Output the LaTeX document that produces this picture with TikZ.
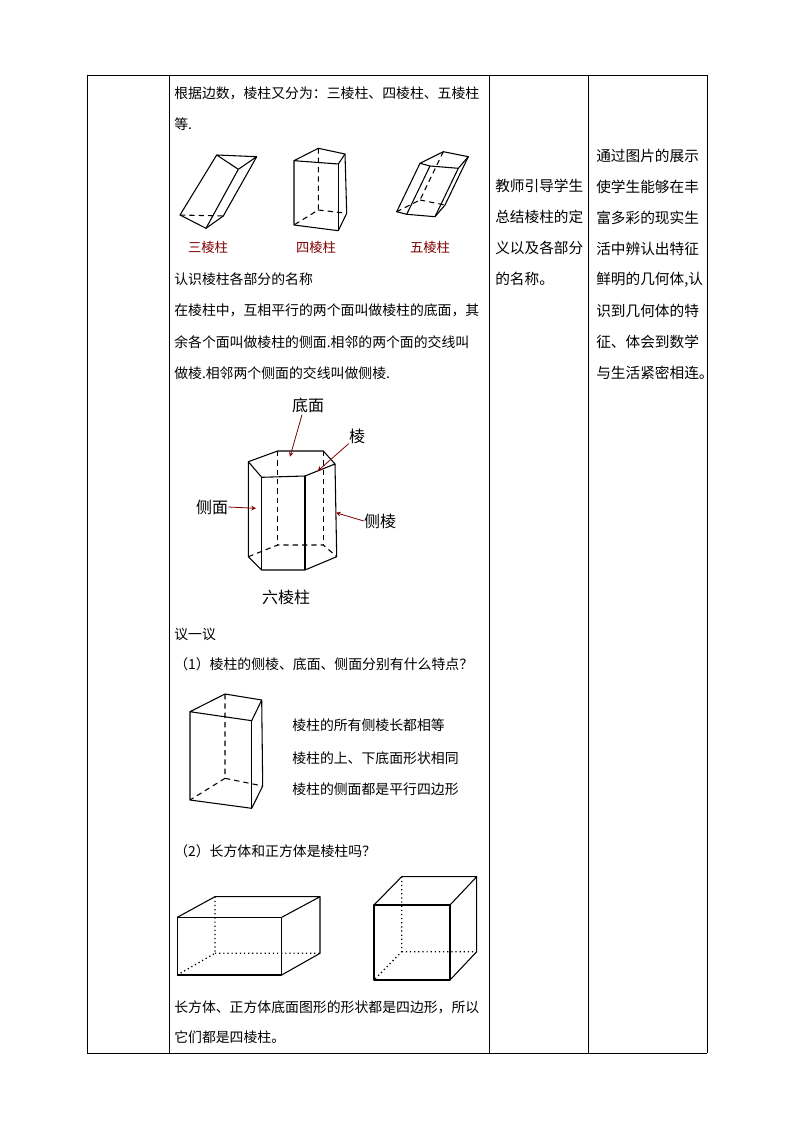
\documentclass[tikz,border=0pt]{standalone}
\usepackage{fontspec}
\setmainfont{Noto Sans CJK SC}
\begin{document}
\begin{tikzpicture}[x=0.75pt,y=-0.75pt,line join=round,
  t/.style={anchor=west,inner sep=0pt,font=\fontsize{10.4}{12}\selectfont},
  tb/.style={anchor=west,inner sep=0pt,font=\fontsize{11}{13}\selectfont},
  lab/.style={anchor=center,inner sep=0pt,font=\fontsize{10}{12}\selectfont,text=darkred},
  hl/.style={anchor=center,inner sep=0pt,font=\fontsize{12}{14}\selectfont},
  ed/.style={line width=0.8pt},
  hid/.style={line width=0.8pt,dash pattern=on 4pt off 3pt},
  dot/.style={line width=1pt,dash pattern=on 0.9pt off 2.2pt},
  arr/.style={draw=darkred,line width=0.6pt,-stealth}]
\definecolor{darkred}{RGB}{128,0,0}
\useasboundingbox (0,0) rectangle (794,1123);
\fill[white] (0,0) rectangle (794,1123);
% table
\draw[line width=0.6pt] (87,75) -- (707,75) (87,1053) -- (707,1053);
\foreach \x in {87,169,489,588,707} \draw[line width=0.6pt] (\x,75) -- (\x,1053);
% column 2 text
\node[t] (l1) at (174,93) {根据边数，棱柱又分为：三棱柱、四棱柱、五棱柱};
\node[t] (l2) at (174,124) {等.};
\node[lab] (n3) at (208,247) {三棱柱};
\node[lab] (n4) at (316,247) {四棱柱};
\node[lab] (n5) at (430,247) {五棱柱};
\node[t] (l3) at (174,279) {认识棱柱各部分的名称};
\node[t] (l4) at (174,310) {在棱柱中，互相平行的两个面叫做棱柱的底面，其};
\node[t] (l5) at (174,342) {余各个面叫做棱柱的侧面.相邻的两个面的交线叫};
\node[t] (l6) at (174,373) {做棱.相邻两个侧面的交线叫做侧棱.};
\node[t] (l7) at (174,634) {议一议};
\node[t] (l8) at (174,664) {（1）棱柱的侧棱、底面、侧面分别有什么特点？};
\node[t] (p1) at (292,725) {棱柱的所有侧棱长都相等};
\node[t] (p2) at (292,758) {棱柱的上、下底面形状相同};
\node[t] (p3) at (292,789) {棱柱的侧面都是平行四边形};
\node[t] (l9) at (174,851) {（2）长方体和正方体是棱柱吗？};
\node[t] (l10) at (174,1007) {长方体、正方体底面图形的形状都是四边形，所以};
\node[t] (l11) at (174,1037) {它们都是四棱柱。};
% column 3
\node[tb] (c1) at (495,186) {教师引导学生};
\node[tb] (c2) at (495,217) {总结棱柱的定};
\node[tb] (c3) at (495,248) {义以及各部分};
\node[tb] (c4) at (495,279) {的名称。};
% column 4
\foreach \s [count=\i] in {通过图片的展示,使学生能够在丰,富多彩的现实生,活中辨认出特征,鲜明的几何体{,}认,识到几何体的特,征、体会到数学,与生活紧密相连。}
  \node[tb] (d\i) at (596,{156+31*(\i-1)}) {\s};
% triangular prism
\draw[ed] (216.7,155) -- (256.7,156.7) -- (238.3,169.3) -- cycle;
\draw[ed] (216.7,155) -- (180,215) -- (206,228.3) -- (223.3,216) -- (256.7,156.7);
\draw[ed] (238.3,169.3) -- (206,228.3);
\draw[hid] (180,215) -- (223.3,216);
% quadrilateral prism
\draw[ed] (294,160.7) -- (318.3,148.3) -- (345,154) -- (338.3,164) -- cycle;
\draw[ed] (294,160.7) -- (294,225) -- (338.3,230.7) -- (346.7,213.3) -- (345,154);
\draw[ed] (338.3,164) -- (338.3,230.7);
\draw[hid] (318.3,148.3) -- (318.3,210) -- (294,225);
\draw[hid] (318.3,210) -- (346.7,213.3);
% pentagonal prism
\draw[ed] (420,163.3) -- (443.3,151.7) -- (468.3,156.7) -- (458.3,168.3) -- (430,166) -- cycle;
\draw[ed] (420,163.3) -- (396.7,211.7) -- (406.7,214.3) -- (435,216.7) -- (445,205) -- (468.3,156.7);
\draw[ed] (430,166) -- (406.7,214.3) (458.3,168.3) -- (435,216.7);
\draw[hid] (443.3,151.7) -- (420,200) -- (396.7,211.7) (420,200) -- (445,205);
% hexagonal prism
\draw[ed] (248.3,461.7) -- (277.7,451) -- (323.3,451) -- (335,464) -- (305,476) -- (261.7,477.3) -- cycle;
\draw[ed] (248.3,461.7) -- (248.3,556.7) -- (261.7,570) -- (305,570) -- (336.7,556.7) -- (335,464);
\draw[ed] (261.7,477.3) -- (261.7,570) (305,476) -- (305,570);
\draw[hid] (277.7,451) -- (277.7,545) (323.3,451) -- (323.3,545);
\draw[hid] (248.3,556.7) -- (277.7,545) -- (323.3,545) -- (336.7,556.7);
\node[hl] (dm) at (308,405) {底面};
\node[hl] (lg) at (357,436) {棱};
\node[hl] (cm) at (212,507) {侧面};
\node[hl] (cl) at (380,521) {侧棱};
\node[hl] (lz) at (286,597) {六棱柱};
\coordinate (dmT) at (290,456.7);
\coordinate (lgT) at (317.7,471);
\coordinate (cmT) at (256,508.3);
\coordinate (clT) at (336,512.7);
\draw[arr] (dm.south) ++(-6,2) -- (dmT);
\draw[arr] (lg.south west) -- (lgT);
\draw[arr] (cm.east) -- (cmT);
\draw[arr] (cl.west) -- (clT);
% prism in question 1
\draw[ed] (190,711.7) -- (225,694) -- (261.7,700) -- (251.7,720.7) -- cycle;
\draw[ed] (190,711.7) -- (190,800) -- (251.7,808.3) -- (262.7,786) -- (261.7,700);
\draw[ed] (251.7,720.7) -- (251.7,808.3);
\draw[hid] (225,694) -- (225,778.3) -- (190,800) (225,778.3) -- (262.7,786);
% cuboid
\draw[ed] (177.3,917.3) rectangle (281.7,975);
\draw[ed] (177.3,917.3) -- (215,896.7) -- (320,896.7) -- (281.7,917.3);
\draw[ed] (320,896.7) -- (320,953.3) -- (281.7,975);
\draw[dot] (215,896.7) -- (215,953.3) -- (177.3,975) (215,953.3) -- (320,953.3);
% cube
\draw[ed] (374,905) rectangle (450,980);
\draw[ed] (374,905) -- (401.7,876.7) -- (476.7,876.7) -- (450,905);
\draw[ed] (476.7,876.7) -- (476.7,951.7) -- (450,980);
\draw[dot] (401.7,876.7) -- (401.7,951.7) -- (374,980) (401.7,951.7) -- (476.7,951.7);
\end{tikzpicture}
\end{document}
